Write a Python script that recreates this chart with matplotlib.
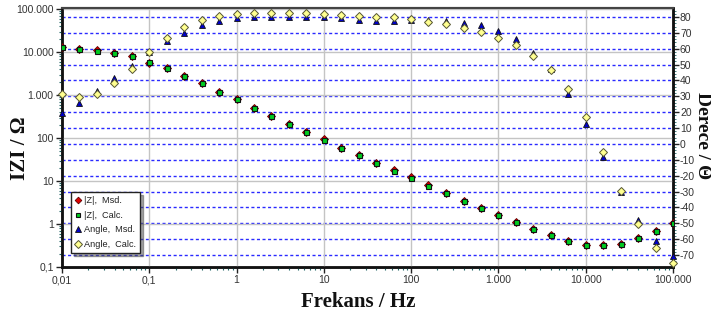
import matplotlib
matplotlib.use("Agg")
import matplotlib.pyplot as plt
import matplotlib.ticker as mticker
from matplotlib.transforms import blended_transform_factory
from matplotlib.lines import Line2D

# Frequency sweep, 5 points per decade
freq = [0.01, 0.0158, 0.0251, 0.0398, 0.0631,
        0.1, 0.158, 0.251, 0.398, 0.631,
        1.0, 1.58, 2.51, 3.98, 6.31,
        10.0, 15.8, 25.1, 39.8, 63.1,
        100.0, 158.0, 251.0, 398.0, 631.0,
        1000.0, 1585.0, 2512.0, 3981.0, 6310.0,
        10000.0, 15850.0, 25120.0, 39810.0, 63100.0,
        100000.0]

z_calc = [12850, 11750, 10540, 9650, 8070,
          5960, 4170, 2810, 1870, 1195,
          795, 507, 330, 212, 135.5,
          89.8, 58.5, 40.3, 25.8, 17.4,
          11.9, 7.78, 5.17, 3.48, 2.39,
          1.62, 1.09, 0.753, 0.555, 0.409,
          0.33, 0.32, 0.337, 0.465, 0.687,
          1.04]

z_meas = [12850, 11750, 10900, 9650, 8070,
          5700, 4170, 2810, 1870, 1195,
          795, 507, 330, 212, 135.5,
          93.0, 60.0, 40.3, 25.8, 18.2,
          12.4, 8.1, 5.17, 3.48, 2.39,
          1.62, 1.09, 0.753, 0.555, 0.409,
          0.33, 0.32, 0.35, 0.465, 0.687,
          1.04]

ang_meas = [19.3, 25.6, 33.5, 41.3, 49.3,
            58.0, 65.0, 70.1, 75.0, 77.7,
            79.2, 79.8, 80.2, 80.2, 80.2,
            79.8, 79.2, 78.1, 77.7, 77.7,
            78.0, 78.1, 77.7, 76.4, 75.0,
            71.4, 65.9, 57.5, 47.0, 31.5,
            12.6, -8.4, -30.5, -48.0, -61.0,
            -70.6]

ang_calc = [31.3, 29.8, 31.7, 38.6, 47.2,
            57.7, 66.6, 73.5, 78.1, 80.6,
            81.9, 82.7, 82.7, 82.7, 82.7,
            81.9, 81.5, 80.9, 80.2, 80.2,
            78.5, 77.0, 75.6, 72.9, 70.4,
            67.0, 62.3, 55.6, 46.6, 34.4,
            17.2, -4.9, -29.7, -50.5, -65.4,
            -75.0]

x_ticks = [0.01, 0.1, 1, 10, 100, 1000, 10000, 100000]
x_labels = ["0,01", "0,1", "1", "10", "100", "1.000", "10.000", "100.000"]
z_ticks = [0.1, 1, 10, 100, 1000, 10000, 100000]
z_labels = ["0,1", "1", "10", "100", "1.000", "10.000", "100.000"]
ang_ticks = list(range(-70, 81, 10))

series_names = ["|Z|,  Msd.", "|Z|,  Calc.", "Angle,  Msd.", "Angle,  Calc."]

W, H = 711, 320
L, R, T, B = 62, 673, 8, 267

fig = plt.figure(figsize=(W / 100, H / 100), dpi=100)
fig.patch.set_facecolor("white")

ax = fig.add_axes([L / W, 1 - B / H, (R - L) / W, (B - T) / H])
ax2 = ax.twinx()
ax2.set_zorder(0)
ax.set_zorder(1)
ax.patch.set_visible(False)
ax2.patch.set_facecolor("white")

ax.set_xscale("log")
ax.set_yscale("log")

tick_font = dict(family="Liberation Sans", size=7.5)
tick_color = "#333333"

# Axis ticks and labels
ax.set_xticks(x_ticks)
ax.set_xticklabels(x_labels, **tick_font, color=tick_color)
ax.xaxis.set_minor_locator(mticker.LogLocator(base=10, subs=range(2, 10), numticks=20))
ax.xaxis.set_minor_formatter(mticker.NullFormatter())
ax.set_yticks(z_ticks)
ax.set_yticklabels(z_labels, **tick_font, color=tick_color)
ax.yaxis.set_minor_locator(mticker.LogLocator(base=10, subs=range(2, 10), numticks=20))
ax.yaxis.set_minor_formatter(mticker.NullFormatter())
ax.set_ylim(0.1, 1.06e5)
ax.set_xlim(0.01, 100000)

ax2.set_yticks(ang_ticks)
ax2.set_yticklabels([str(v) for v in ang_ticks], **tick_font, color=tick_color)
ax2.yaxis.set_minor_locator(mticker.MultipleLocator(2))
ax2.set_ylim(-77.6, 85.7)

ax.tick_params(axis="both", which="major", direction="out", length=4, width=1, color="#222222", pad=2)
ax.tick_params(axis="both", which="minor", direction="out", length=2, width=0.8, color="#226666")
ax2.tick_params(axis="y", which="major", direction="out", length=4, width=1, color="#222222", pad=1)
ax2.tick_params(axis="y", which="minor", direction="out", length=2.5, width=0.6, color="#226666")

# Gridlines: grey at decades, dashed blue at angle ticks
ax.grid(True, which="major", axis="both", color="#c4c4c4", lw=1.0, ls="-")
ax.grid(False, which="minor")
ax2.grid(True, which="major", axis="y", color="#2a2aff", lw=1.0, ls=(0, (2.2, 1.8)))
ax2.grid(False, which="minor")

for a in (ax, ax2):
    for side in ("left", "right", "bottom"):
        a.spines[side].set_linewidth(1.8)
        a.spines[side].set_color("#111111")
    a.spines["top"].set_linewidth(1.5)
    a.spines["top"].set_color("#444444")

# Angle series use the right-hand scale for y
ang_tr = blended_transform_factory(ax.transData, ax2.transData)

ax.plot(freq, z_meas, ls="none", marker="D", ms=3.6, mfc="#e00000", mec="#600000", mew=0.6, zorder=3)
ax.plot(freq, z_calc, ls="none", marker="s", ms=3.6, mfc="#00cc20", mec="#111111", mew=0.8, zorder=4)
ax.plot(freq, ang_meas, ls="none", marker="^", ms=4.6, mfc="#0000c8", mec="#111111", mew=0.6,
        transform=ang_tr, zorder=5, clip_on=False)
ax.plot(freq, ang_calc, ls="none", marker="D", ms=4.0, mfc="#ffff90", mec="#555533", mew=0.7,
        transform=ang_tr, zorder=6, clip_on=False)

# Legend
handles = [
    Line2D([], [], ls="none", marker="D", ms=3.4, mfc="#e00000", mec="#600000", mew=0.6),
    Line2D([], [], ls="none", marker="s", ms=3.4, mfc="#00cc20", mec="#111111", mew=0.8),
    Line2D([], [], ls="none", marker="^", ms=4.2, mfc="#0000c8", mec="#111111", mew=0.6),
    Line2D([], [], ls="none", marker="D", ms=3.8, mfc="#ffff90", mec="#555533", mew=0.7),
]
leg = ax.legend(handles, series_names, loc="lower left", bbox_to_anchor=(9 / (R - L), 14 / (B - T)),
                prop=dict(family="Liberation Sans", size=6.6), frameon=True, fancybox=False,
                shadow=True, handlelength=0.6, handletextpad=0.4, borderpad=0.45,
                labelspacing=0.6, borderaxespad=0)
leg.get_frame().set_edgecolor("#222222")
leg.get_frame().set_linewidth(1.0)
for t in leg.get_texts():
    t.set_color("#222222")

# Axis titles
title_font = dict(family="Liberation Serif", weight="bold", size=15, color="#111111")
fig.text(358 / W, 1 - 302 / H, "Frekans / Hz", ha="center", va="center", **title_font)
fig.text(20 / W, 1 - 148 / H, "IZI / Ω", ha="center", va="center", rotation=90, **title_font)
fig.text(711 / W, 1 - 136 / H, "Derece / Θ", ha="right", va="center", rotation=-90,
         **dict(title_font, size=14))

fig.savefig("out.png", dpi=100, facecolor="white")
